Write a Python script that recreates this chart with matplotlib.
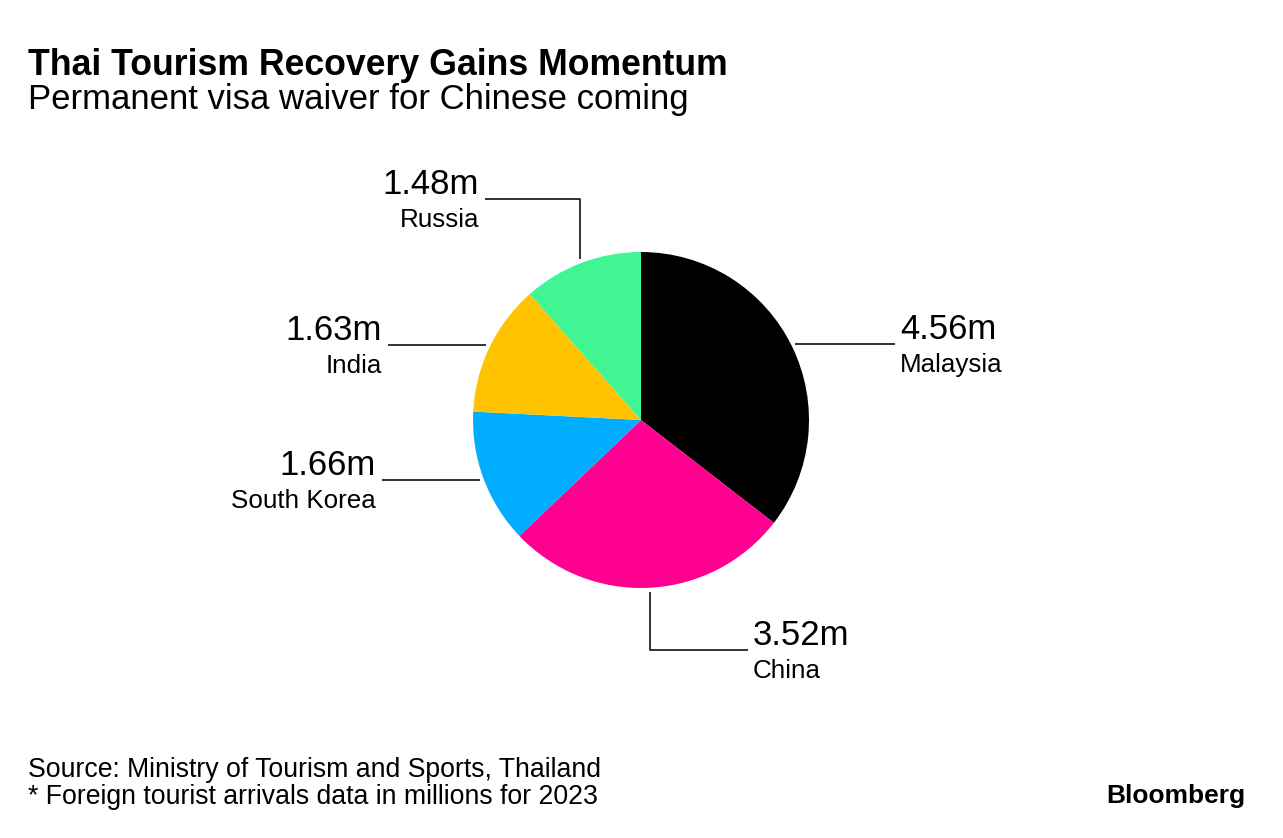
import numpy as np
import matplotlib
matplotlib.use("Agg")
import matplotlib.pyplot as plt

plt.rcParams['font.family'] = ['Liberation Sans', 'DejaVu Sans']

# Foreign tourist arrivals 2023, millions
countries = ['Malaysia', 'China', 'South Korea', 'India', 'Russia']
arrivals = [4.56, 3.52, 1.66, 1.63, 1.48]
colors = ['#000000', '#ff0090', '#00adff', '#ffc300', '#40f592']

W, H = 1283, 838
fig = plt.figure(figsize=(W / 100, H / 100), dpi=100)
ax = fig.add_axes([0, 0, 1, 1])


def Y(py):
    # pixel row (from top) -> data y
    return H - py


cx, cy, r = 641, Y(420), 168
wedges, _ = ax.pie(arrivals, colors=colors, startangle=90, counterclock=False,
                   center=(cx, cy), radius=r, frame=True,
                   wedgeprops=dict(linewidth=0))
ax.set_xlim(0, W)
ax.set_ylim(0, H)
ax.set_aspect('equal')
ax.axis('off')

line_kw = dict(color='#222222', lw=1.3, solid_capstyle='butt')
val_fs, name_fs = 25, 18.7

# leader line layout per wedge
layout = {
    'Malaysia': dict(elbow_y=None, end_x=895, side='right'),
    'China': dict(elbow_y=Y(650), end_x=748, side='right'),
    'South Korea': dict(elbow_y=None, end_x=382, side='left'),
    'India': dict(elbow_y=None, end_x=388, side='left'),
    'Russia': dict(elbow_y=Y(199), end_x=485, side='left'),
}

for w, name, val in zip(wedges, countries, arrivals):
    ang = np.deg2rad((w.theta1 + w.theta2) / 2)
    sx = cx + (r + 4) * np.cos(ang)
    sy = cy + (r + 4) * np.sin(ang)
    lay = layout[name]
    if lay['elbow_y'] is None:
        xs = [sx, lay['end_x']]
        ys = [sy, sy]
        ly = sy
    else:
        xs = [sx, sx, lay['end_x']]
        ys = [sy, lay['elbow_y'], lay['elbow_y']]
        ly = lay['elbow_y']
    ax.plot(xs, ys, **line_kw)
    if lay['side'] == 'right':
        tx, ha = lay['end_x'] + 5, 'left'
    else:
        tx, ha = lay['end_x'] - 6, 'right'
    ax.text(tx, ly + 5, f'{val:.2f}m', fontsize=val_fs, ha=ha, va='baseline', color='black')
    ax.text(tx, ly - 28, name, fontsize=name_fs, ha=ha, va='baseline', color='black')

ax.text(28, Y(75), 'Thai Tourism Recovery Gains Momentum', fontsize=25.7, fontweight='bold',
        ha='left', va='baseline')
ax.text(28, Y(109), 'Permanent visa waiver for Chinese coming', fontsize=25,
        ha='left', va='baseline')
ax.text(28, Y(777), 'Source: Ministry of Tourism and Sports, Thailand', fontsize=19.2,
        ha='left', va='baseline')
ax.text(28, Y(804), '* Foreign tourist arrivals data in millions for 2023', fontsize=19.2,
        ha='left', va='baseline')
ax.text(1245, Y(803), 'Bloomberg', fontsize=19, fontweight='bold', ha='right', va='baseline')

fig.savefig('out.png', dpi=100, facecolor='white')
